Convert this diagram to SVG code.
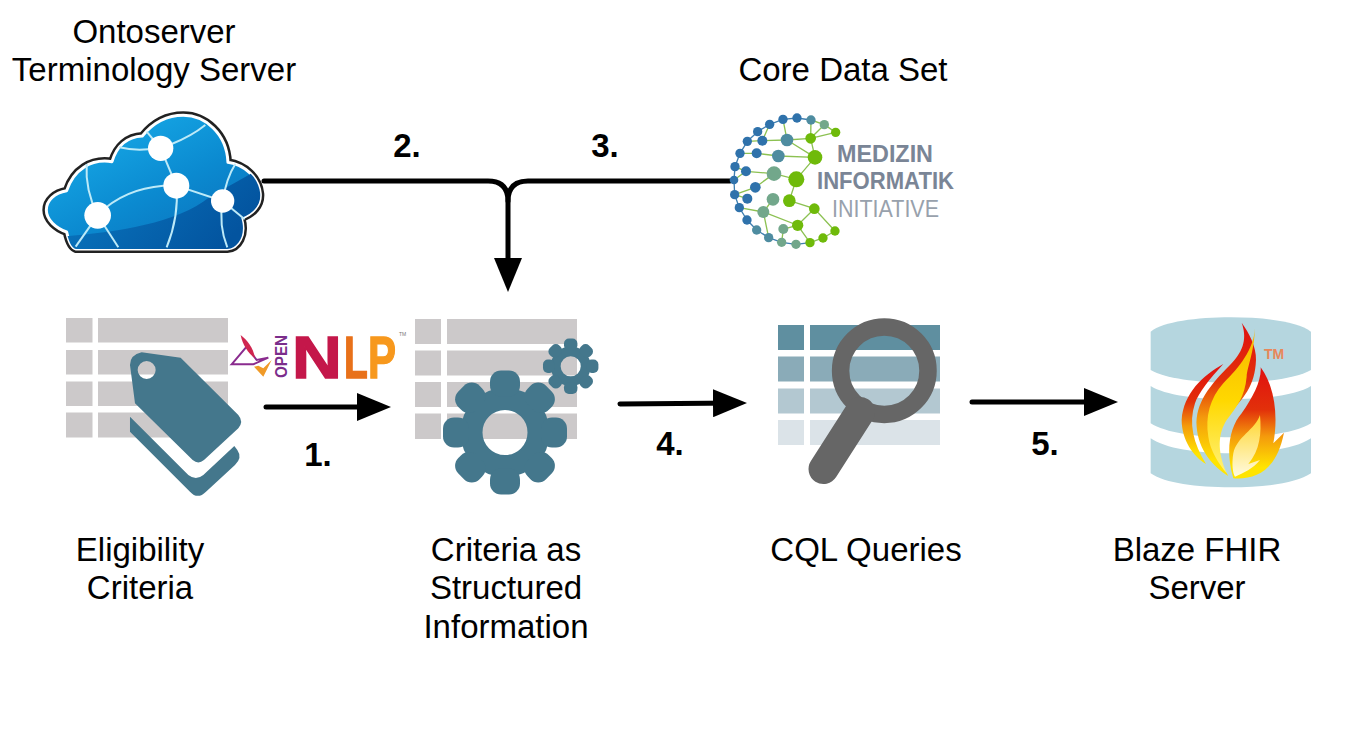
<svg xmlns="http://www.w3.org/2000/svg" xmlns:xlink="http://www.w3.org/1999/xlink" width="1345" height="735" viewBox="0 0 1345 735">
<style>
text{font-family:"Liberation Sans",Arial,sans-serif;fill:#000}
.lbl{font-size:33px;text-anchor:middle}
.num{font-size:33px;font-weight:bold;text-anchor:middle}
.conn{fill:none;stroke:#000;stroke-width:5;stroke-linecap:round}
.g{fill:#ccc9ca}
.teal{fill:#44778c}
.cl{fill:none;stroke:#bdeaf8;stroke-width:6}
.cn{fill:#fff}
.e{stroke:#8cc152;stroke-width:4;fill:none}
.eb{stroke:#3f7fb0;stroke-width:4;fill:none}
.b{fill:#2f72ab}.t{fill:#4e8ca0}.m{fill:#72a78b}.v{fill:#6fba0a}
.mi{font-size:23px;font-weight:bold;fill:#7a8596}
.nlp{font-size:60px;font-weight:bold;stroke-width:1.5}
</style>
<defs>
<marker id="head" markerUnits="userSpaceOnUse" markerWidth="36" markerHeight="28" refX="24" refY="14" orient="auto"><polygon points="0,0 34,14 0,28" fill="#000"/></marker>
<linearGradient id="sky" x1="0.1" y1="0" x2="0.9" y2="1"><stop offset="0" stop-color="#19b0ec"/><stop offset="0.55" stop-color="#0b8ad0"/><stop offset="1" stop-color="#0a6db8"/></linearGradient>
<linearGradient id="deep" x1="0" y1="0" x2="1" y2="0.4"><stop offset="0" stop-color="#0a7cc4"/><stop offset="1" stop-color="#03549f"/></linearGradient>
<clipPath id="cloudclip"><path d="M168,477 L622,477 C655,475 680,435 664,384 C700,372 723,345 721,312 C716,262 675,225 624,217 C620,130 555,76 490,76 C443,76 402,95 367,138 C322,140 290,168 276,215 C212,205 160,240 140,302 C105,308 79,330 79,360 C79,390 108,415 140,426 C146,455 155,474 168,477Z"/></clipPath>
<linearGradient id="fire" x1="0" y1="0" x2="0" y2="1"><stop offset="0" stop-color="#e01010"/><stop offset="0.38" stop-color="#e2300a"/><stop offset="0.62" stop-color="#f49a0c"/><stop offset="0.9" stop-color="#ffe400"/></linearGradient>
<linearGradient id="fire2" x1="0" y1="0" x2="0" y2="1"><stop offset="0" stop-color="#f7b500"/><stop offset="0.5" stop-color="#ffd800"/><stop offset="1" stop-color="#fff27a"/></linearGradient>
<linearGradient id="fire3" x1="0" y1="0" x2="0" y2="1"><stop offset="0" stop-color="#ffd52a"/><stop offset="1" stop-color="#fffbe0"/></linearGradient>
<g id="gear">
<circle r="33.500" fill="none" stroke="#44778c" stroke-width="22"/>
<g class="teal">
<rect id="tooth" x="-15" y="-62" width="30" height="26" rx="11"/>
<use xlink:href="#tooth" transform="rotate(45)"/><use xlink:href="#tooth" transform="rotate(90)"/><use xlink:href="#tooth" transform="rotate(135)"/><use xlink:href="#tooth" transform="rotate(180)"/><use xlink:href="#tooth" transform="rotate(225)"/><use xlink:href="#tooth" transform="rotate(270)"/><use xlink:href="#tooth" transform="rotate(315)"/>
</g>
</g>
</defs>
<rect width="1345" height="735" fill="#fff"/>

<g id="connectors">
<path class="conn" d="M264,181 H488 Q508,181 508,201 V282" marker-end="url(#head)"/>
<path class="conn" d="M730,181 H528 Q508,181 508,201"/>
<line class="conn" x1="266" y1="407" x2="381" y2="407" marker-end="url(#head)"/>
<line class="conn" x1="620" y1="404" x2="737" y2="403" marker-end="url(#head)"/>
<line class="conn" x1="972" y1="402" x2="1108" y2="402" marker-end="url(#head)"/>
</g>

<g id="step-labels">
<text class="num" x="407" y="157">2.</text>
<text class="num" x="605" y="157">3.</text>
<text class="num" x="318" y="466">1.</text>
<text class="num" x="670" y="455">4.</text>
<text class="num" x="1045" y="455">5.</text>
</g>

<g id="ontoserver">
<text class="lbl" x="154" y="43">Ontoserver</text>
<text class="lbl" x="154" y="81">Terminology Server</text>
<g transform="translate(20,90) scale(0.3333)">
<path d="M168,477 L622,477 C655,475 680,435 664,384 C700,372 723,345 721,312 C716,262 675,225 624,217 C620,130 555,76 490,76 C443,76 402,95 367,138 C322,140 290,168 276,215 C212,205 160,240 140,302 C105,308 79,330 79,360 C79,390 108,415 140,426 C146,455 155,474 168,477Z" fill="#fff" stroke="#222" stroke-width="24" stroke-linejoin="round"/>
<path d="M168,477 L622,477 C655,475 680,435 664,384 C700,372 723,345 721,312 C716,262 675,225 624,217 C620,130 555,76 490,76 C443,76 402,95 367,138 C322,140 290,168 276,215 C212,205 160,240 140,302 C105,308 79,330 79,360 C79,390 108,415 140,426 C146,455 155,474 168,477Z" fill="url(#sky)" stroke="#fff" stroke-width="9" stroke-linejoin="round"/>
<path clip-path="url(#cloudclip)" d="M120,440 C300,425 470,400 570,320 C640,280 700,250 740,220 L740,490 L120,490Z" fill="url(#deep)"/>
<path class="cl" d="M298,172 C330,180 360,180 385,178"/>
<path class="cl" d="M380,125 L422,175"/>
<path class="cl" d="M455,162 C490,148 525,130 556,105"/>
<path class="cl" d="M422,175 L469,287"/>
<path class="cl" d="M469,287 C380,285 310,310 255,355"/>
<path class="cl" d="M233,376 C205,320 197,270 200,222"/>
<path class="cl" d="M233,376 L167,470"/>
<path class="cl" d="M233,376 L295,472"/>
<path class="cl" d="M469,287 C475,350 465,410 440,472"/>
<path class="cl" d="M469,287 L608,333"/>
<path class="cl" d="M608,333 C615,290 625,255 646,222"/>
<path class="cl" d="M608,333 L674,388"/>
<path class="cl" d="M608,333 C600,380 605,430 622,472"/>
<circle class="cn" cx="422" cy="175" r="38"/>
<circle class="cn" cx="469" cy="287" r="39"/>
<circle class="cn" cx="233" cy="376" r="40"/>
<circle class="cn" cx="608" cy="333" r="35"/>
</g>
</g>

<g id="core-data-set">
<text class="lbl" x="843" y="81">Core Data Set</text>
<g transform="translate(720,100) scale(0.3333)">
<path class="eb" d="M149,73 L189,58 L231,54 L273,60 M113,95 L149,73 M82,124 L113,95 M60,160 L82,124 M45,200 L60,160 M42,240 L45,200 M44,284 L42,240 M58,323 L44,284 M81,360 L58,323 M110,390 L81,360 M146,413 L110,390 M185,427 L146,413 M228,433 L185,427 M270,428 L228,433"/>
<path class="e" d="M273,60 L313,74 L347,97 M270,428 L309,414 L345,393 M127,122 L201,120 L272,115 L347,97 M272,115 L313,74 M272,115 L273,60 M201,120 L189,58 M127,122 L149,73 M201,120 L285,172 M272,115 L285,172 M110,160 L175,168 L285,172 M110,160 L60,160 M127,122 L82,124 M78,214 L162,221 L229,238 L285,172 M78,214 L45,200 M78,214 L42,240 M44,284 L106,262 L162,221 M44,284 L82,296 M229,238 L208,302 L283,326 L345,393 M283,326 L233,376 L130,336 L58,323 M130,336 L159,298 M130,336 L146,413 M233,376 L190,387 L185,427 M233,376 L270,428"/>
<g class="b"><circle cx="231" cy="54" r="14"/><circle cx="189" cy="58" r="14"/><circle cx="149" cy="73" r="14"/><circle cx="113" cy="95" r="14"/><circle cx="82" cy="124" r="14"/><circle cx="60" cy="160" r="14"/><circle cx="45" cy="200" r="14"/><circle cx="42" cy="240" r="13"/><circle cx="44" cy="284" r="14"/><circle cx="58" cy="323" r="14"/><circle cx="81" cy="360" r="14"/><circle cx="127" cy="122" r="15"/><circle cx="110" cy="160" r="15"/><circle cx="78" cy="214" r="15"/><circle cx="106" cy="262" r="16"/><circle cx="82" cy="296" r="15"/></g>
<g class="t"><circle cx="273" cy="60" r="14"/><circle cx="110" cy="390" r="14"/><circle cx="146" cy="413" r="14"/><circle cx="201" cy="120" r="19"/><circle cx="175" cy="168" r="19"/></g>
<g class="m"><circle cx="313" cy="74" r="14"/><circle cx="185" cy="427" r="14"/><circle cx="228" cy="433" r="14"/><circle cx="162" cy="221" r="22"/><circle cx="159" cy="298" r="19"/><circle cx="130" cy="336" r="18"/><circle cx="190" cy="387" r="15"/></g>
<g class="v"><circle cx="347" cy="97" r="14"/><circle cx="270" cy="428" r="14"/><circle cx="309" cy="414" r="14"/><circle cx="345" cy="393" r="14"/><circle cx="272" cy="115" r="16"/><circle cx="285" cy="172" r="22"/><circle cx="229" cy="238" r="24"/><circle cx="208" cy="302" r="19"/><circle cx="283" cy="326" r="16"/><circle cx="233" cy="376" r="17"/></g>
</g>
<text class="mi" x="837" y="162" textLength="96" lengthAdjust="spacingAndGlyphs">MEDIZIN</text>
<text class="mi" x="817" y="189" textLength="137" lengthAdjust="spacingAndGlyphs">INFORMATIK</text>
<text class="mi" x="832" y="217" textLength="107" lengthAdjust="spacingAndGlyphs" style="font-weight:normal;fill:#98a1ac">INITIATIVE</text>
</g>

<g id="eligibility-criteria">
<g class="g"><rect x="66" y="318" width="26.5" height="24.5"/><rect x="98" y="318" width="130" height="24.5"/><rect x="66" y="350" width="26.5" height="24.5"/><rect x="98" y="350" width="130" height="24.5"/><rect x="66" y="381.500" width="26.5" height="24.5"/><rect x="98" y="381.500" width="130" height="24.5"/><rect x="66" y="412.500" width="26.5" height="25"/><rect x="98" y="412.500" width="130" height="25"/></g>
<g transform="translate(50,305) scale(0.3333)" class="teal">
<path fill-rule="evenodd" d="M275,142 L392,158 L565,330 Q582,350 565,370 L462,465 Q445,480 428,465 L255,295 L240,180 Q240,150 275,142Z M290,168 A27,27 0 1 0 290,222 A27,27 0 1 0 290,168Z"/>
<path d="M240,335 L240,380 L420,560 Q443,585 468,560 L555,480 Q578,458 562,435 L553,423 L460,510 Q438,528 415,510Z"/>
</g>
<text class="lbl" x="140" y="561">Eligibility</text>
<text class="lbl" x="140" y="599">Criteria</text>
</g>

<g id="opennlp">
<g transform="translate(50,305) scale(0.3333)" fill="none">
<path d="M545,178 L590,125 L620,165 L655,158 L610,178 L560,178Z" stroke="#8a2b8e" stroke-width="6"/>
<path d="M572,90 C590,105 610,125 615,160 C595,145 578,120 572,90Z" fill="#d0254f"/>
<path d="M612,185 L640,215 L665,165 L640,190 L625,182Z" fill="#f09a28"/>
</g>
<text transform="translate(287,378) rotate(-90)" x="0" y="0" font-size="17" font-weight="bold" style="fill:#7b2d8b" textLength="43" lengthAdjust="spacingAndGlyphs">OPEN</text>
<text class="nlp" transform="translate(292,378) scale(1.15,1)" style="fill:#c4174a;stroke:#c4174a">N</text>
<text class="nlp" transform="translate(344,378) scale(0.65,1)" style="fill:#e8711a;stroke:#e8711a">L</text>
<text class="nlp" transform="translate(368,378) scale(0.7,1)" style="fill:#f7981d;stroke:#f7981d">P</text>
<text x="399" y="336" font-size="5" style="fill:#777">TM</text>
</g>

<g id="structured-information">
<g class="g"><rect x="415" y="319" width="26" height="25"/><rect x="447" y="319" width="130" height="25"/><rect x="415" y="350.500" width="26" height="25"/><rect x="447" y="350.500" width="130" height="25"/><rect x="415" y="382" width="26" height="25"/><rect x="447" y="382" width="130" height="25"/><rect x="415" y="413.500" width="26" height="25.5"/><rect x="447" y="413.500" width="130" height="25.500"/></g>
<use xlink:href="#gear" transform="translate(505,432.500)"/>
<use xlink:href="#gear" transform="translate(570.700,366.300) scale(0.447)"/>
<text class="lbl" x="506" y="561">Criteria as</text>
<text class="lbl" x="506" y="599">Structured</text>
<text class="lbl" x="506" y="638">Information</text>
</g>

<g id="cql-queries">
<rect x="778" y="325" width="26" height="25" fill="#5f8fa0"/><rect x="810" y="325" width="130" height="25" fill="#5f8fa0"/>
<rect x="778" y="356.500" width="26" height="25" fill="#8aabb8"/><rect x="810" y="356.500" width="130" height="25" fill="#8aabb8"/>
<rect x="778" y="388.500" width="26" height="25" fill="#b3c8d1"/><rect x="810" y="388.500" width="130" height="25" fill="#b3c8d1"/>
<rect x="778" y="420" width="26" height="25" fill="#dbe3e8"/><rect x="810" y="420" width="130" height="25" fill="#dbe3e8"/>
<circle cx="884.300" cy="370.700" r="43.700" fill="none" stroke="#666" stroke-width="17.500"/>
<line x1="860" y1="412" x2="823.500" y2="469" stroke="#666" stroke-width="30" stroke-linecap="round"/>
<text class="lbl" x="866" y="561">CQL Queries</text>
</g>

<g id="blaze-fhir-server">
<g transform="translate(1130,310) scale(0.3333)">
<path d="M62,65 C100,35 200,22 302,22 C410,22 505,35 543,65 V180 C500,205 400,218 302,218 C200,218 105,205 62,180Z" fill="#b5d6df"/>
<path d="M62,228 C105,255 200,268 302,268 C400,268 500,255 543,228 V340 C500,368 400,382 302,382 C200,382 105,368 62,340Z" fill="#b5d6df"/>
<path d="M62,385 C105,415 200,430 302,430 C400,430 500,415 543,385 V490 C500,520 400,532 302,532 C200,532 105,520 62,490Z" fill="#b5d6df"/>
<path d="M280,162 C220,195 160,250 155,330 C155,390 190,440 228,462 C190,400 175,340 195,280 C205,250 240,205 280,162Z" fill="url(#fire)"/>
<path d="M335,38 C350,80 345,120 300,165 C240,225 195,280 200,350 C205,420 250,470 295,498 C250,420 250,370 290,320 C340,265 375,230 378,150 C380,110 355,65 335,38Z" fill="url(#fire)"/>
<path d="M375,55 C370,120 330,170 280,220 C240,265 225,320 235,380 C240,420 265,460 290,490 C260,420 265,370 290,330 C320,290 345,260 350,200 C352,170 372,130 375,55Z" fill="url(#fire2)"/>
<path d="M392,172 C395,210 370,260 335,310 C300,350 285,420 310,505 C380,510 440,480 462,368 L430,400 C445,320 435,230 392,172Z" fill="url(#fire)"/>
<path d="M390,315 C375,360 320,380 310,430 C305,460 308,490 315,500 C340,490 370,475 390,450 L355,462 C390,420 395,370 390,315Z" fill="url(#fire3)"/>
</g>
<text x="1264" y="359" font-size="14" font-weight="bold" style="fill:#e8875a">TM</text>
<text class="lbl" x="1197" y="561">Blaze FHIR</text>
<text class="lbl" x="1197" y="599">Server</text>
</g>
</svg>
